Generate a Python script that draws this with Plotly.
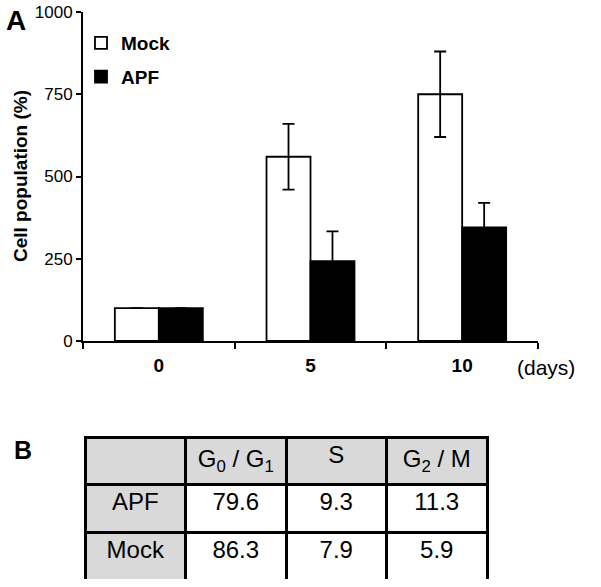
import plotly.graph_objects as go

# ---- data ----
days = ["0", "5", "10"]
mock = [100, 560, 750]
mock_err = [0, 100, 130]
apf = [100, 243, 345]
apf_err = [0, 90, 75]

table_header = ["", "G<sub>0</sub> / G<sub>1</sub>", "S", "G<sub>2</sub> / M"]
table_rows = ["APF", "Mock"]
g0g1 = ["79.6", "86.3"]
s_phase = ["9.3", "7.9"]
g2m = ["11.3", "5.9"]

W, H = 601, 587
FONT = "Arial, Liberation Sans, sans-serif"
GREY = "#d9d9d9"

def px(x):
    return x / W

def py(y):
    return 1 - y / H

fig = go.Figure()
fig.add_trace(go.Bar(
    x=days, y=mock, name="Mock", legendgroup="mock",
    marker=dict(color="white", line=dict(color="black", width=1.8)),
    error_y=dict(type="data", array=mock_err, color="black", thickness=1.8, width=6),
))
fig.add_trace(go.Bar(
    x=days, y=apf, name="APF", legendgroup="apf",
    marker=dict(color="black", line=dict(color="black", width=1.8)),
    error_y=dict(type="data", array=apf_err, color="black", thickness=1.8, width=6),
))

fig.add_trace(go.Table(
    domain=dict(x=[px(85), px(487)], y=[py(580), py(437)]),
    columnwidth=[1, 1, 1, 1],
    header=dict(
        values=table_header,
        fill_color=GREY,
        line=dict(color="black", width=3),
        font=dict(family=FONT, size=24, color="black"),
        align="center",
        height=47,
    ),
    cells=dict(
        values=[table_rows, g0g1, s_phase, g2m],
        fill_color=[[GREY, GREY], ["white", "white"], ["white", "white"], ["white", "white"]],
        line=dict(color="black", width=3),
        font=dict(family=FONT, size=24, color="black"),
        align="center",
        height=48,
    ),
))

fig.update_layout(
    width=W, height=H,
    margin=dict(l=0, r=0, t=0, b=0, autoexpand=False),
    paper_bgcolor="white", plot_bgcolor="white",
    barmode="group", bargap=0.42, bargroupgap=0,
    font=dict(family=FONT, color="black"),
    showlegend=True,
    legend=dict(
        x=px(81), y=py(24), xanchor="left", yanchor="top",
        font=dict(family=FONT, size=19, color="black", weight="bold"),
        bgcolor="rgba(0,0,0,0)",
        traceorder="grouped", tracegroupgap=6,
    ),
    xaxis=dict(
        domain=[px(83), px(538)],
        type="category", automargin=False,
        showline=True, linecolor="black", linewidth=2,
        ticks="outside", tickson="boundaries", ticklen=6, tickwidth=2, tickcolor="black",
        tickfont=dict(family=FONT, size=19, color="black", weight="bold"),
        showgrid=False, zeroline=False,
        ticklabelstandoff=6,
    ),
    yaxis=dict(
        domain=[py(341), py(12)],
        range=[0, 1000], automargin=False,
        tickvals=[0, 250, 500, 750, 1000],
        showline=True, linecolor="black", linewidth=2,
        ticks="outside", ticklen=5, tickwidth=2, tickcolor="black",
        tickfont=dict(family=FONT, size=17, color="black"),
        showgrid=False, zeroline=False,
    ),
    annotations=[
        dict(text="<b>A</b>", x=px(16), y=py(20), xref="paper", yref="paper",
             showarrow=False, font=dict(family=FONT, size=28, color="black"),
             xanchor="center", yanchor="middle"),
        dict(text="<b>B</b>", x=px(23), y=py(450), xref="paper", yref="paper",
             showarrow=False, font=dict(family=FONT, size=25, color="black"),
             xanchor="center", yanchor="middle"),
        dict(text="<b>Cell population (%)</b>", x=px(20), y=py(176), xref="paper", yref="paper",
             showarrow=False, textangle=-90, font=dict(family=FONT, size=19, color="black"),
             xanchor="center", yanchor="middle"),
        dict(text="(days)", x=px(546), y=py(367), xref="paper", yref="paper",
             showarrow=False, font=dict(family=FONT, size=21, color="black"),
             xanchor="center", yanchor="middle"),
    ],
)

fig.write_html(
    "out.html",
    config={"displayModeBar": False},
    post_script="document.body.style.margin='0';document.documentElement.style.overflow='hidden';",
)
